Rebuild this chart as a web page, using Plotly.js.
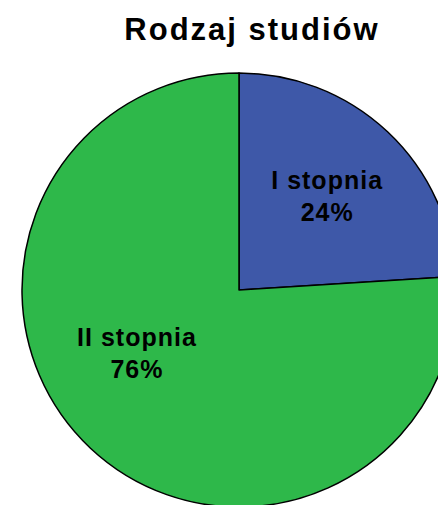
<!DOCTYPE html>
<html>
<head>
<meta charset="utf-8">
<script src="https://cdn.plot.ly/plotly-3.0.1.min.js"></script>
<style>
html, body { margin: 0; padding: 0; overflow: hidden; background: #fff; width: 438px; height: 505px; }
#chart { width: 456px; height: 507px; }
</style>
</head>
<body>
<div id="chart"></div>
<script>
const chartTitle = 'Rodzaj studiów';
const categories = ['I stopnia', 'II stopnia'];
const values = [24, 76];
const colors = ['#3E58A8', '#2EB84A'];

const sp = '\u00a0'.repeat(8);
Plotly.newPlot('chart', [{
  type: 'pie',
  labels: categories,
  values: values,
  sort: false,
  direction: 'clockwise',
  rotation: 0,
  marker: { colors: colors, line: { color: '#000', width: 1.5 } },
  texttemplate: [
    '<b><span style="letter-spacing:1px">%{label}</span></b><br><b><span style="letter-spacing:1px">%{percent:.0%}</span></b>',
    '<b><span style="letter-spacing:1px">%{label}</span></b>' + sp + '<br><b><span style="letter-spacing:1px">%{percent:.0%}</span></b>' + sp + '<br> '
  ],
  textposition: 'inside',
  insidetextorientation: 'horizontal',
  textfont: { family: 'Liberation Sans, Arial, sans-serif', size: 25, color: '#000' },
  hoverinfo: 'none',
  showlegend: false
}], {
  width: 456,
  height: 507,
  margin: { l: 22, r: 0, t: 73, b: 0, pad: 0 },
  paper_bgcolor: '#fff',
  title: {
    text: '<b><span style="letter-spacing:2px">' + chartTitle + '</span></b>',
    font: { family: 'Liberation Sans, Arial, sans-serif', size: 31, color: '#000' },
    x: 252 / 456, xanchor: 'center',
    y: 1 - 29 / 507, yanchor: 'middle',
    xref: 'container', yref: 'container'
  }
}, { staticPlot: true, displayModeBar: false });
</script>
</body>
</html>
